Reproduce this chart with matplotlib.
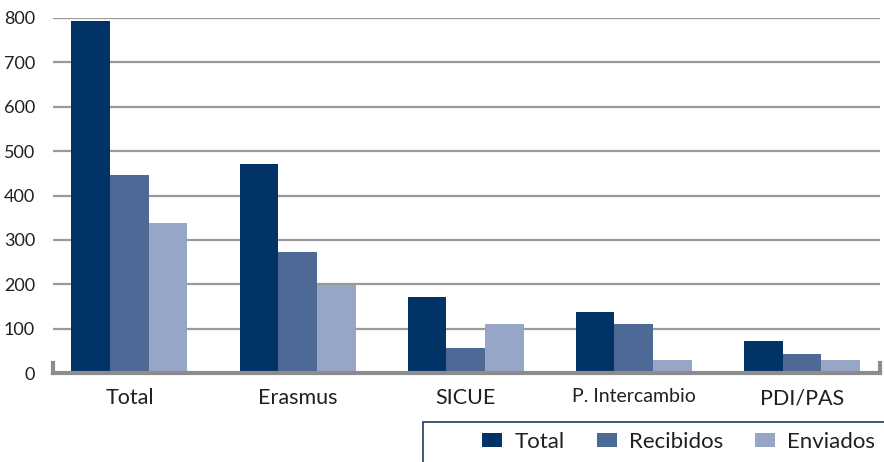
import numpy as np
import matplotlib.pyplot as plt
from matplotlib.patches import Rectangle

plt.rcParams['font.family'] = ['Lato', 'DejaVu Sans']

categories = ['Total', 'Erasmus', 'SICUE', 'P. Intercambio', 'PDI/PAS']
total = [793, 471, 171, 137, 72]
recibidos = [447, 272, 56, 110, 43]
enviados = [339, 199, 110, 29, 29]

series = [('Total', total, '#023366'),
          ('Recibidos', recibidos, '#4d6a96'),
          ('Enviados', enviados, '#97a6c6')]

text_col = '#231f20'
grid_col = '#9a9a9a'
axis_col = '#8c8c8c'

fig = plt.figure(figsize=(8.84, 4.62), dpi=100)
ax = fig.add_axes([53/884, 1 - 373/462, 827/884, 355/462])

x = np.arange(len(categories))
w = 0.23
for i, (name, vals, col) in enumerate(series):
    ax.bar(x + (i - 1)*w, vals, w, color=col, label=name, zorder=2)

ax.set_xlim(-0.455, 4.465)
ax.set_ylim(0, 800)
ax.set_yticks(range(0, 801, 100))
ax.set_xticks(x)
ax.set_xticklabels(categories)

ax.set_axisbelow(True)
ax.yaxis.grid(True, color=grid_col, lw=1.6)
ax.tick_params(axis='y', length=0, pad=13, labelsize=13, labelcolor=text_col)
ax.tick_params(axis='x', length=0, pad=11, labelsize=15.5, labelcolor=text_col)
# the long label is set a bit smaller in the original
ax.get_xticklabels()[3].set_fontsize(14)

ax.spines['top'].set_visible(False)
for s in ['left', 'right', 'bottom']:
    ax.spines[s].set_color(axis_col)
    ax.spines[s].set_linewidth(3)
ax.spines['left'].set_bounds(0, 22)
ax.spines['right'].set_bounds(0, 22)

# legend box runs off the bottom/right edge of the image
fig.patches.append(Rectangle((423/884, -0.1), 0.6, 0.1 + 40/462,
                             transform=fig.transFigure, fill=False,
                             edgecolor='#1f3a60', lw=1.2))
fig.legend(loc='center left', bbox_to_anchor=(482/884, 1 - 442/462),
           ncol=3, frameon=False, fontsize=16, handlelength=0.9,
           handleheight=0.55, handletextpad=0.55, columnspacing=1.45,
           borderpad=0, borderaxespad=0, labelcolor=text_col)

fig.savefig('out.png', dpi=100)
